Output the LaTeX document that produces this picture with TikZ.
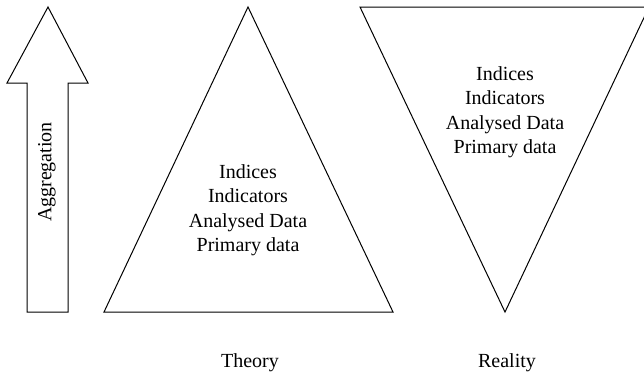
\documentclass[tikz,border=0pt]{standalone}
\usepackage{fontspec}
\setmainfont{Liberation Serif}
\begin{document}
\begin{tikzpicture}[x=1pt,y=-1pt,
  outline/.style={draw=black,line width=1pt,line join=miter},
  stack/.style={align=center,inner sep=0pt,font=\fontsize{20}{24.5}\selectfont},
  caption/.style={inner sep=0pt,font=\fontsize{20}{24}\selectfont}]
\useasboundingbox (0,0) rectangle (644,376);
\clip (0,0) rectangle (644,376);

% aggregation arrow
\draw[outline] (48,7) -- (88,83) -- (68,83) -- (68,312) -- (27,312) -- (27,83) -- (7,83) -- cycle;
\node[caption,rotate=90] (agg) at (47,172) {Aggregation};

% theory pyramid
\coordinate (tApex) at (248,7);
\coordinate (tRight) at (393,312);
\coordinate (tLeft) at (104,312);
\draw[outline] (tApex) -- (tRight) -- (tLeft) -- cycle;
\node[stack] (tText) at (248,210) {Indices\\Indicators\\Analysed Data\\Primary data};
\node[caption] (theory) at (250,363) {Theory};

% reality funnel
\coordinate (rLeft) at (360,7);
\coordinate (rRight) at (649,7);
\coordinate (rTip) at (505,312);
\draw[outline] (rLeft) -- (rRight) -- (rTip) -- cycle;
\node[stack] (rText) at (505,112) {Indices\\Indicators\\Analysed Data\\Primary data};
\node[caption] (reality) at (507,363) {Reality};
\end{tikzpicture}
\end{document}
